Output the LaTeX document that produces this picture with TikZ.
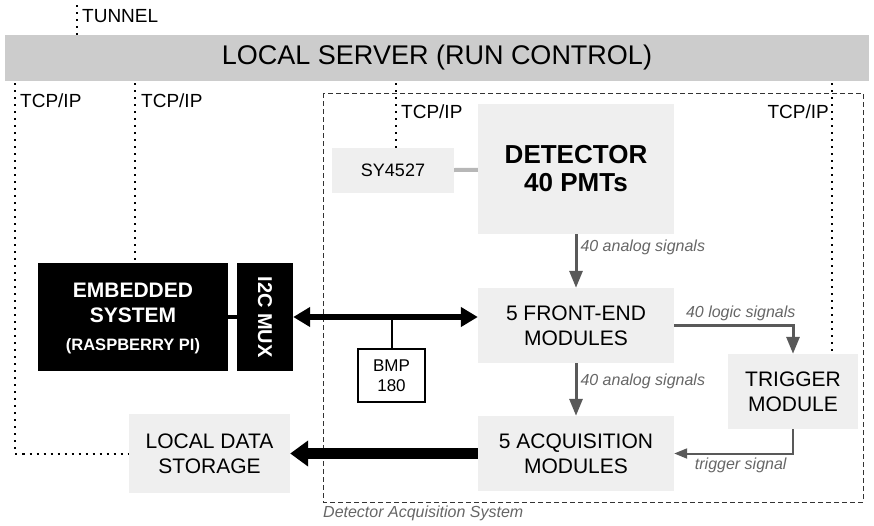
\documentclass[tikz,border=0pt]{standalone}
\usepackage{fontspec}
\setmainfont{Liberation Sans}
\usetikzlibrary{arrows.meta, positioning, calc}

\definecolor{boxgray}{HTML}{EFEFEF}
\definecolor{servergray}{HTML}{CCCCCC}
\definecolor{arrowgray}{HTML}{595959}
\definecolor{labelgray}{HTML}{666666}
\definecolor{wiregray}{HTML}{B7B7B7}

\begin{document}
\begin{tikzpicture}[
    x=1pt, y=-1pt,
    module/.style={
        fill=boxgray, inner sep=0pt, align=center,
        font=\fontsize{21}{25}\selectfont
    },
    blackbox/.style={
        fill=black, text=white, inner sep=0pt, align=center,
        font=\fontsize{21}{25}\selectfont\bfseries
    },
    sensor/.style={
        draw, line width=2pt, fill=white, inner sep=0pt, align=center,
        font=\fontsize{17}{20}\selectfont
    },
    sigtext/.style={font=\fontsize{16}{19}\selectfont\itshape, text=labelgray, inner sep=3pt},
    linktext/.style={font=\fontsize{19}{22}\selectfont, inner sep=0pt},
    sig/.style={-{Triangle[length=17pt,width=13pt]}, line width=3pt, arrowgray},
    trig/.style={-{Triangle[length=13pt,width=10pt]}, line width=2pt, arrowgray},
    bus/.style={{Triangle[length=17pt,width=19pt]}-{Triangle[length=17pt,width=19pt]}, line width=6pt},
    store/.style={-{Triangle[length=18pt,width=25pt]}, line width=11pt},
    link/.style={line width=2pt, dash pattern=on 2pt off 5pt},
    frame/.style={line width=0.8pt, dash pattern=on 5pt off 3pt, black!80},
]
\useasboundingbox (0,0) rectangle (874,525);

% Frame of the acquisition system
\draw[frame] (323,93) rectangle (863,502);
\node[sigtext, anchor=west, inner sep=0pt] (dasname) at (323,513) {Detector Acquisition System};

% Nodes
\node[fill=servergray, minimum width=864pt, minimum height=46pt, inner sep=0pt,
      font=\fontsize{27}{31}\selectfont] (server) at (437,58) {LOCAL SERVER (RUN CONTROL)};

\node[module, minimum width=122pt, minimum height=45pt, font=\fontsize{18}{21}\selectfont] (sy) at (393,170.5) {SY4527};
\node[module, minimum width=196pt, minimum height=130pt, font=\fontsize{26}{28}\selectfont\bfseries] (detector) at (576,169) {DETECTOR\\40 PMTs};
\node[module, minimum width=196pt, minimum height=75pt] (frontend) at (576,325.5) {5 FRONT-END\\MODULES};
\node[module, minimum width=196pt, minimum height=75pt] (acq) at (576,453.5) {5 ACQUISITION\\MODULES};
\node[module, minimum width=130pt, minimum height=75pt] (trigger) at (793,391.5) {TRIGGER\\MODULE};
\node[module, minimum width=161pt, minimum height=79pt] (storage) at (209.5,453.5) {LOCAL DATA\\STORAGE};

\node[blackbox, minimum width=190pt, minimum height=108pt, text depth=0pt] (embedded) at (133,317)
    {EMBEDDED\\SYSTEM\\[3pt]{\fontsize{16.5}{20}\selectfont (RASPBERRY PI)}};
\node[blackbox, minimum width=56pt, minimum height=108pt, font=\fontsize{20}{24}\selectfont\bfseries] (mux) at (265,317)
    {\rotatebox{-90}{I2C MUX}};
\node[sensor, minimum width=67pt, minimum height=53pt] (bmp) at (391.5,375.5) {BMP\\180};

% Network links
\coordinate (tun) at (77,5);
\coordinate (t1) at (15,83);
\coordinate (t2) at (135,83);
\coordinate (t3) at (396,83);
\coordinate (t4) at (832,83);
\draw[link] (tun) -- (tun |- server.north);
\draw[link] (t1) |- (storage.west);
\draw[link] (t2) -- (t2 |- embedded.north);
\draw[link] (t3) -- (t3 |- sy.north);
\draw[link] (t4) -- (t4 |- trigger.north);
\node[linktext, anchor=west] (tuntext) at (82,16) {TUNNEL};
\node[linktext, anchor=west] (tcp1) at (20,101) {TCP/IP};
\node[linktext, anchor=west] (tcp2) at (141,101) {TCP/IP};
\node[linktext, anchor=west] (tcp3) at (401,112) {TCP/IP};
\node[linktext, anchor=east] (tcp4) at (829,112) {TCP/IP};

% Signals
\draw[wiregray, line width=4pt] (sy) -- (detector);
\draw[sig] (detector) -- node[sigtext, right, pos=0.25] {40 analog signals} (frontend);
\draw[sig] (frontend) -- node[sigtext, right, pos=0.35] {40 analog signals} (acq);
\draw[sig] (frontend.east) -| node[sigtext, above, pos=0.28] {40 logic signals} (trigger.north);
\draw[trig] (trigger.south) |- node[sigtext, below, pos=0.72] {trigger signal} (acq.east);

% I2C bus and data path
\draw[line width=4pt] (embedded) -- (mux);
\coordinate (busjoin) at (bmp.north |- mux.east);
\draw[bus] (mux.east) -- (mux.east -| frontend.west);
\draw[line width=2pt] (busjoin) -- (bmp.north);
\draw[store] (acq.west) -- (storage.east);

\end{tikzpicture}
\end{document}
